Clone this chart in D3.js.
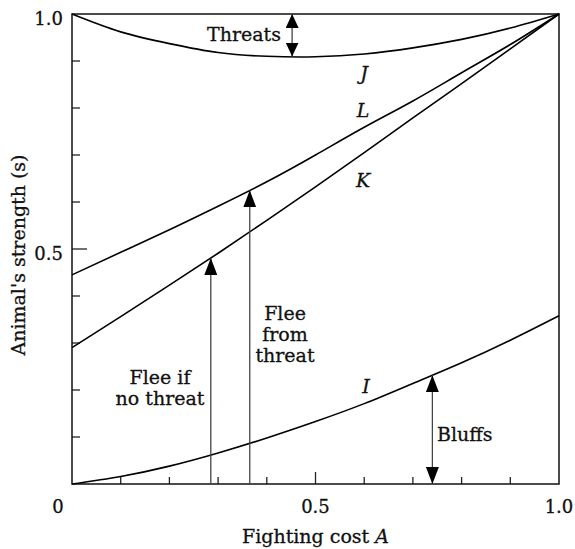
<!DOCTYPE html>
<html>
<head>
<meta charset="utf-8">
<script src="https://cdn.jsdelivr.net/npm/d3@7"></script>
<style>
  body { margin: 0; background: #fff; }
  text { font-family: "DejaVu Serif", serif; fill: #111; stroke: #111; stroke-width: 0.3; }
  .it { font-style: italic; }
</style>
</head>
<body>
<div id="chart"></div>
<script>
// fighting cost A, sampled along the x axis
var costA  = [0, 0.1, 0.2, 0.3, 0.4, 0.5, 0.6, 0.7, 0.8, 0.9, 1.0];
// strength thresholds
var curveI = [0, 0.016, 0.038, 0.066, 0.098, 0.133, 0.171, 0.214, 0.258, 0.306, 0.358];
var curveJ = [1.0, 0.962, 0.937, 0.918, 0.910, 0.909, 0.915, 0.928, 0.946, 0.970, 1.0];
var curveK = [0.290, 0.356, 0.423, 0.491, 0.561, 0.632, 0.705, 0.779, 0.852, 0.926, 1.0];
var curveL = [0.445, 0.493, 0.541, 0.591, 0.643, 0.700, 0.759, 0.815, 0.875, 0.935, 1.0];

var xTicks = [0, 0.5, 1.0];
var yTicks = [0.5, 1.0];

// where the annotation arrows stand (value of A)
var threatsA = 0.452, fleeNoThreatA = 0.285, fleeThreatA = 0.365, bluffsA = 0.74;

var W = 575, H = 549;
var margin = {left: 72, top: 14, right: 16, bottom: 65};
var w = W - margin.left - margin.right,
    h = H - margin.top - margin.bottom;

var svg = d3.select("#chart").append("svg")
    .attr("width", W)
    .attr("height", H);

var defs = svg.append("defs");
function head(id, len, wid) {
  defs.append("marker")
    .attr("id", id)
    .attr("markerUnits", "userSpaceOnUse")
    .attr("viewBox", "0 0 " + len + " " + wid)
    .attr("refX", len).attr("refY", wid / 2)
    .attr("markerWidth", len).attr("markerHeight", wid)
    .attr("orient", "auto-start-reverse")
    .append("path")
    .attr("d", "M0,0L" + len + "," + (wid / 2) + "L0," + wid + "Z")
    .attr("fill", "#000");
}
head("arr", 17, 13);
head("arrS", 14, 13);

var g = svg.append("g").attr("transform", "translate(" + margin.left + "," + margin.top + ")");

var x = d3.scaleLinear().domain([0, 1]).range([0, w]);
var y = d3.scaleLinear().domain([0, 1]).range([h, 0]);

// minor ticks (inside)
var minor = d3.range(1, 10).map(function(d) { return d / 10; });
g.selectAll(".ty").data(minor).enter().append("line")
  .attr("x1", 0).attr("x2", function(d) { return d === 0.5 ? 15 : 8; })
  .attr("y1", function(d) { return y(d); }).attr("y2", function(d) { return y(d); })
  .attr("stroke", "#222").attr("stroke-width", 1.3);
g.selectAll(".tx").data(minor).enter().append("line")
  .attr("y1", h).attr("y2", function(d) { return h - (d === 0.5 ? 12 : 7); })
  .attr("x1", function(d) { return x(d); }).attr("x2", function(d) { return x(d); })
  .attr("stroke", "#222").attr("stroke-width", 1.3);

// frame
g.append("rect")
  .attr("width", w).attr("height", h)
  .attr("fill", "none").attr("stroke", "#111").attr("stroke-width", 1.5);

// tick labels
g.selectAll(".ly").data(yTicks).enter().append("text")
  .attr("x", -9).attr("y", function(d) { return y(d) + 11; })
  .attr("text-anchor", "end").attr("font-size", 18)
  .text(function(d) { return d3.format(".1f")(d); });
g.selectAll(".lx").data(xTicks).enter().append("text")
  .attr("x", function(d) { return d === 0 ? x(d) - 14 : x(d); })
  .attr("y", h + 29)
  .attr("text-anchor", "middle").attr("font-size", 18)
  .text(function(d) { return d === 0 ? "0" : d3.format(".1f")(d); });

// axis titles
var xt = g.append("text")
  .attr("x", w / 2).attr("y", h + 59)
  .attr("text-anchor", "middle").attr("font-size", 19);
xt.append("tspan").text("Fighting cost ");
xt.append("tspan").attr("class", "it").text("A");

g.append("text")
  .attr("transform", "translate(" + (-47) + "," + (h / 2 + 6) + ") rotate(-90)")
  .attr("text-anchor", "middle").attr("font-size", 19)
  .text("Animal's strength (s)");

// curves
var line = d3.line()
  .x(function(d) { return x(d[0]); })
  .y(function(d) { return y(d[1]); })
  .curve(d3.curveNatural);

[curveI, curveJ, curveK, curveL].forEach(function(c) {
  g.append("path")
    .datum(d3.zip(costA, c))
    .attr("d", line)
    .attr("fill", "none").attr("stroke", "#000").attr("stroke-width", 1.6);
});

// value of a curve at a given A
function at(c, a) { return d3.scaleLinear().domain(costA).range(c)(a); }

// arrows
function arrow(a, s0, s1, both, mk) {
  g.append("line")
    .attr("x1", x(a)).attr("x2", x(a))
    .attr("y1", y(s0)).attr("y2", y(s1))
    .attr("stroke", "#444").attr("stroke-width", 1.3)
    .attr("marker-end", "url(#" + mk + ")")
    .attr("marker-start", both ? "url(#" + mk + ")" : null);
}
arrow(threatsA, 1.0, at(curveJ, threatsA), true, "arrS");
arrow(fleeNoThreatA, 0, at(curveK, fleeNoThreatA), false, "arr");
arrow(fleeThreatA, 0, at(curveL, fleeThreatA), false, "arr");
arrow(bluffsA, 0, at(curveI, bluffsA), true, "arr");

// labels
function label(lines, px, py, anchor, cls) {
  var t = g.append("text")
    .attr("text-anchor", anchor).attr("font-size", 19);
  if (cls) t.attr("class", cls);
  lines.forEach(function(l, i) {
    t.append("tspan").attr("x", px).attr("y", py + i * 21).text(l);
  });
}
label(["Threats"], 281 - margin.left, 41 - margin.top, "end");
label(["Flee", "from", "threat"], 285 - margin.left, 320 - margin.top, "middle");
label(["Flee if", "no threat"], 160 - margin.left, 384 - margin.top, "middle");
label(["Bluffs"], 437 - margin.left, 441 - margin.top, "start");
label(["J"], 364 - margin.left, 80 - margin.top, "middle", "it");
label(["L"], 363 - margin.left, 117 - margin.top, "middle", "it");
label(["K"], 363 - margin.left, 187 - margin.top, "middle", "it");
label(["I"], 366 - margin.left, 393 - margin.top, "middle", "it");
</script>
</body>
</html>
